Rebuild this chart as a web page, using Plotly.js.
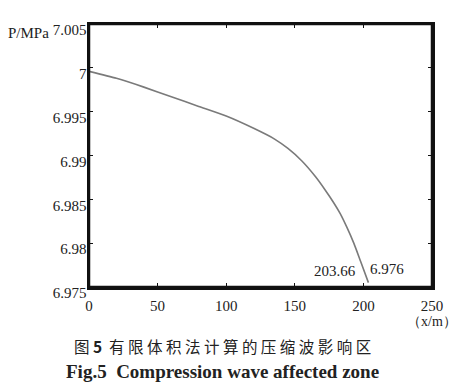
<!DOCTYPE html>
<html>
<head>
<meta charset="utf-8">
<script src="https://cdn.plot.ly/plotly-3.0.1.min.js"></script>
<style>html,body{margin:0;padding:0;background:#fff;}#chart{width:460px;height:386px;}</style>
</head>
<body>
<div id="chart"></div>
<script>
// Data
const distance = [0, 20, 40, 60, 80, 100, 120, 135, 145, 155, 165, 172, 178, 183, 188, 193, 198, 203.66];
const pressure = [6.9996, 6.9988, 6.9978, 6.9967, 6.9956, 6.9945, 6.9931, 6.9919, 6.9908, 6.9894, 6.9876, 6.9861, 6.9847, 6.9834, 6.9818, 6.9800, 6.9779, 6.9755];
const xTicks = [0, 50, 100, 150, 200, 250];
const yTicks = [6.975, 6.98, 6.985, 6.99, 6.995, 7, 7.005];
const yTickLabels = ["6.975", "6.98", "6.985", "6.99", "6.995", "7", "7.005"];
const endX = 203.66;
const endY = 6.976;
const endLabelX = "203.66";
const endLabelY = "6.976";
const yLabel = "P/MPa";
const xLabel = "（x/m）";
const captionCn = "图 <b>5</b>  有 限 体 积 法 计 算 的 压 缩 波 影 响 区";
const captionEn = "<b>Fig.5  Compression wave affected zone</b>";

const serif = "'Liberation Serif', 'Times New Roman', Times, serif";
const txt = "#222";

const trace = {
  x: distance, y: pressure, type: "scatter", mode: "lines",
  line: {color: "#7a7a7a", width: 1.6, shape: "spline", smoothing: 0.6}, hoverinfo: "skip", showlegend: false
};

const axisCommon = {
  ticks: "inside", ticklen: 4, tickwidth: 1.2, tickcolor: "#111",
  showline: true, linewidth: 2.5, linecolor: "#111", mirror: "ticks",
  showgrid: false, zeroline: false,
  tickfont: {family: serif, size: 15, color: txt}
};

const layout = {
  width: 460, height: 386,
  margin: {l: 89, r: 28, t: 24, b: 99},
  paper_bgcolor: "#fff", plot_bgcolor: "#fff",
  font: {family: serif, size: 15, color: txt},
  xaxis: Object.assign({range: [0, 250], tickvals: xTicks, ticktext: xTicks.map(String),
    ticklabelstandoff: 3}, axisCommon),
  yaxis: Object.assign({range: [6.975, 7.005], tickvals: yTicks, ticktext: yTickLabels,
    ticklabelshift: 6, ticklabelstandoff: -3}, axisCommon),
  shapes: [
    {type: "rect", xref: "paper", yref: "paper", x0: 0, x1: 1, y0: 0, y1: 1,
     line: {color: "#111", width: 2.5}, layer: "above"}
  ],
  annotations: [
    {xref: "paper", yref: "paper", x: 0, y: 0.965, xanchor: "right", yanchor: "middle",
     text: yLabel, showarrow: false, font: {family: serif, size: 15, color: txt}, xshift: -38},
    {xref: "paper", yref: "paper", x: 1.0, y: -0.13, xanchor: "center", yanchor: "middle",
     text: xLabel, showarrow: false, font: {family: serif, size: 14, color: txt}},
    {xref: "x", yref: "y", x: endX, y: endY, xanchor: "right", yanchor: "middle",
     text: endLabelX, showarrow: false, font: {family: serif, size: 15, color: txt}, xshift: -10, yshift: 7},
    {xref: "x", yref: "y", x: endX, y: endY, xanchor: "left", yanchor: "middle",
     text: endLabelY, showarrow: false, font: {family: serif, size: 15, color: txt}, xshift: 0, yshift: 9},
    {xref: "paper", yref: "paper", x: 0.39, y: -0.225, xanchor: "center", yanchor: "middle",
     text: captionCn, showarrow: false, font: {family: "'Noto Sans CJK SC', sans-serif", size: 15.5, color: txt}},
    {xref: "paper", yref: "paper", x: 0.39, y: -0.32, xanchor: "center", yanchor: "middle",
     text: captionEn, showarrow: false, font: {family: serif, size: 19, color: txt}}
  ]
};

Plotly.newPlot("chart", [trace], layout, {displayModeBar: false, staticPlot: true});
</script>
</body>
</html>
